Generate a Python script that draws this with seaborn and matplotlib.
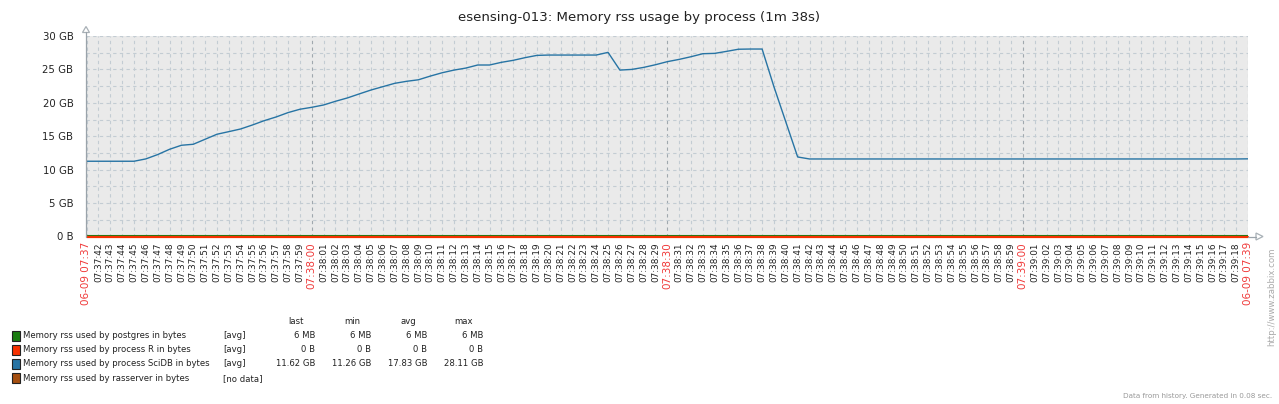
import numpy as np
import pandas as pd
import matplotlib
matplotlib.use("Agg")
import matplotlib.pyplot as plt
import seaborn as sns
from matplotlib.patches import Rectangle, Polygon
from matplotlib.lines import Line2D

# ---------------- data ----------------
title = "esensing-013: Memory rss usage by process (1m 38s)"
start_time = "2016-06-09 07:37:41"
view_start = "2016-06-09 07:37:40.95"
view_end = "2016-06-09 07:39:19"

scidb_gb = [
    11.26, 11.26, 11.26, 11.26, 11.26, 11.61, 12.26, 13.05, 13.65, 13.80,
    14.55, 15.30, 15.69, 16.09, 16.69, 17.34, 17.89, 18.54, 19.04, 19.33,
    19.68, 20.23, 20.73, 21.33, 21.92, 22.42, 22.92, 23.22, 23.45, 24.00,
    24.50, 24.90, 25.20, 25.66, 25.66, 26.06, 26.36, 26.76, 27.10, 27.15,
    27.15, 27.15, 27.15, 27.15, 27.55, 24.90, 25.00, 25.30, 25.70, 26.16,
    26.50, 26.90, 27.35, 27.40, 27.70, 28.02, 28.05, 28.05, 22.40, 17.15,
    11.90, 11.60, 11.60, 11.60, 11.60, 11.60, 11.60, 11.60, 11.60, 11.60,
    11.60, 11.60, 11.60, 11.60, 11.60, 11.60, 11.60, 11.60, 11.60, 11.60,
    11.60, 11.60, 11.60, 11.60, 11.60, 11.60, 11.60, 11.60, 11.60, 11.60,
    11.60, 11.60, 11.60, 11.60, 11.60, 11.60, 11.60, 11.60, 11.62,
]
postgres_gb = 0.006   # 6 MB
process_r_gb = 0.0    # 0 B

series_names = [
    "Memory rss used by postgres in bytes",
    "Memory rss used by process R in bytes",
    "Memory rss used by process SciDB in bytes",
    "Memory rss used by rasserver in bytes",
]
series_colors = ["#1A7C11", "#F63100", "#2774A4", "#A54F10"]
series_funcs = ["[avg]", "[avg]", "[avg]", "[no data]"]
stat_headers = ["last", "min", "avg", "max"]
stat_last = ["6 MB", "0 B", "11.62 GB", ""]
stat_min = ["6 MB", "0 B", "11.26 GB", ""]
stat_avg = ["6 MB", "0 B", "17.83 GB", ""]
stat_max = ["6 MB", "0 B", "28.11 GB", ""]

y_ticks = [0, 5, 10, 15, 20, 25, 30]
y_tick_labels = ["0 B", "5 GB", "10 GB", "15 GB", "20 GB", "25 GB", "30 GB"]
first_label = "06-09 07:37"
last_label = "06-09 07:39"

# ---------------- helpers ----------------
W, H = 1279, 404
t0 = pd.Timestamp("2016-06-09 07:37:00")
times = pd.date_range(start_time, periods=len(scidb_gb), freq="s")
secs = (times - t0).total_seconds().values
x0 = (pd.Timestamp(view_start) - t0).total_seconds()
x1 = (pd.Timestamp(view_end) - t0).total_seconds()

def fx(px):
    return px / W

def fy(py):
    return 1 - py / H

df = pd.concat([
    pd.DataFrame({"t": secs, "gb": postgres_gb, "series": series_names[0]}),
    pd.DataFrame({"t": secs, "gb": process_r_gb, "series": series_names[1]}),
    pd.DataFrame({"t": secs, "gb": scidb_gb, "series": series_names[2]}),
])

sns.set_style("white")
plt.rcParams["font.family"] = ["DejaVu Sans"]
leg_font = 6.1

fig = plt.figure(figsize=(W / 100, H / 100), dpi=100)
ax = fig.add_axes([fx(86), fy(236.5), fx(1248) - fx(86), fy(36) - fy(236.5)])
ax.set_facecolor("#EAEAEA")

# grid
grid_c = "#C3CCD3"
dash = (0, (3, 3))
major_secs = [s for s in range(int(np.ceil(x0)), int(np.floor(x1)) + 1)]
for s in major_secs:
    strong = (s % 30 == 0)
    ax.axvline(s, color="#A0A8AE" if strong else grid_c, lw=0.8, ls=dash, zorder=0.5)
ax.axvline(x1, color=grid_c, lw=0.8, ls=dash, zorder=0.5)
for v in np.arange(2.5, 30.01, 2.5):
    ax.axhline(v, color=grid_c, lw=0.8, ls=dash, zorder=0.5)

# lines
sns.lineplot(data=df[df.series == series_names[0]], x="t", y="gb",
             color=series_colors[0], lw=1.5, ax=ax, legend=False)
sns.lineplot(data=df[df.series == series_names[2]], x="t", y="gb",
             color=series_colors[2], lw=1.0, ax=ax, legend=False)
sns.lineplot(data=df[df.series == series_names[1]], x="t", y="gb",
             color=series_colors[1], lw=1.6, ax=ax, legend=False)
ax.lines[-1].set_clip_on(False)
ax.lines[-1].set_zorder(5)

ax.set_xlim(x0, x1)
ax.set_ylim(0, 30)
ax.set_xlabel("")
ax.set_ylabel("")
for sp in ax.spines.values():
    sp.set_visible(False)

# y ticks
ax.set_yticks(y_ticks)
ax.set_yticklabels(y_tick_labels)
ax.tick_params(axis="y", direction="out", length=5, width=0.8, color="#9AA3AA",
               labelsize=7.3, labelcolor="#222222", pad=4)

# x ticks (one per second)
lab_secs = [s for s in major_secs if 42 <= s <= 138]
tick_pos = [x0] + lab_secs + [x1]
tick_lab = [first_label]
for s in lab_secs:
    total = 37 * 60 + s
    tick_lab.append(f"07:{total // 60:02d}:{total % 60:02d}")
tick_lab.append(last_label)
ax.set_xticks(tick_pos)
ax.set_xticklabels(tick_lab, rotation=90, va="top", ha="center")
ax.tick_params(axis="x", direction="in", length=3, width=0.6, color="#B0B8BE",
               labelsize=6.4, labelcolor="#222222", pad=4)
red = "#F03A3A"
for lbl, p in zip(ax.get_xticklabels(), tick_pos):
    if p in (x0, x1) or (round(p) == p and int(p) % 30 == 0):
        lbl.set_color(red)
        lbl.set_fontsize(7.5)

# axis lines with arrows (in figure pixel coords)
axc = "#9AA3AA"
fig.add_artist(Line2D([fx(86), fx(86)], [fy(236.5), fy(32)], color=axc, lw=0.9))
fig.add_artist(Polygon([[fx(82.5), fy(32.5)], [fx(89.5), fy(32.5)], [fx(86), fy(26.5)]],
                       closed=True, fill=False, edgecolor="#A8B0B6", lw=0.9))
fig.add_artist(Line2D([fx(1248), fx(1256)], [fy(236.5), fy(236.5)], color=axc, lw=0.9))
fig.add_artist(Polygon([[fx(1256), fy(233)], [fx(1256), fy(240)], [fx(1263), fy(236.5)]],
                       closed=True, fill=False, edgecolor="#A8B0B6", lw=0.9))

# title
fig.text(fx(639), fy(18), title, ha="center", va="center", fontsize=9.6, color="#222222")

# legend table
def ltext(x, y, s, ha):
    fig.text(fx(x), fy(y), s, ha=ha, va="center", fontsize=leg_font, color="#222222")

ltext(296, 322, stat_headers[0], "center")
ltext(352, 322, stat_headers[1], "center")
ltext(408, 322, stat_headers[2], "center")
ltext(464, 322, stat_headers[3], "center")
row_y = [335.5, 349.8, 364, 378.2]
for i in range(4):
    y = row_y[i]
    fig.add_artist(Rectangle((fx(11.5), fy(y + 5)), fx(8.5), fy(y - 5) - fy(y + 5),
                             facecolor=series_colors[i], edgecolor="#222222", lw=0.8))
    ltext(23, y, series_names[i], "left")
    ltext(223, y, series_funcs[i], "left")
    ltext(315, y, stat_last[i], "right")
    ltext(371, y, stat_min[i], "right")
    ltext(427.5, y, stat_avg[i], "right")
    ltext(483.5, y, stat_max[i], "right")

# watermark texts
fig.text(fx(1272), fy(248), "http://www.zabbix.com", rotation=90, ha="center", va="top",
         fontsize=6.2, color="#AAAAAA")
fig.text(fx(1272), fy(396), "Data from history. Generated in 0.08 sec.", ha="right", va="center",
         fontsize=5.2, color="#999999")

fig.savefig("out.png", dpi=100, facecolor="white")
